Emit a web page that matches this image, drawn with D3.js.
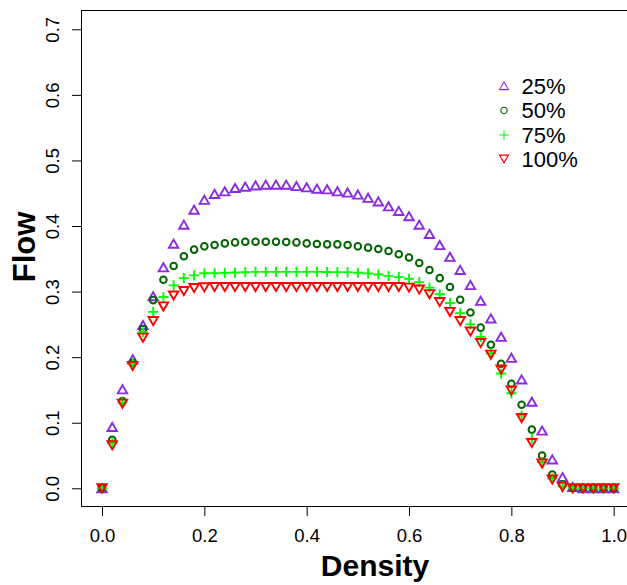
<!DOCTYPE html>
<html>
<head>
<meta charset="utf-8">
<script src="https://cdn.jsdelivr.net/npm/d3@7/dist/d3.min.js"></script>
<style>
  html, body { margin: 0; padding: 0; background: #fff; }
  svg { display: block; font-family: "Liberation Sans", Arial, Helvetica, sans-serif; }
</style>
</head>
<body>
<svg id="chart" width="627" height="585"></svg>
<script>
const density = [0,0.02,0.04,0.06,0.08,0.10,0.12,0.14,0.16,0.18,
  0.20,0.22,0.24,0.26,0.28,0.30,0.32,0.34,0.36,0.38,
  0.40,0.42,0.44,0.46,0.48,0.50,0.52,0.54,0.56,0.58,
  0.60,0.62,0.64,0.66,0.68,0.70,0.72,0.74,0.76,0.78,
  0.80,0.82,0.84,0.86,0.88,0.90,0.92,0.94,0.96,0.98,1.00];

const flow25 = [0,0.0935,0.151,0.197,0.249,0.293,0.337,0.373,0.402,0.425,
  0.440,0.449,0.453,0.458,0.460,0.462,0.463,0.463,0.463,0.461,
  0.459,0.457,0.456,0.453,0.451,0.448,0.443,0.4375,0.430,0.423,
  0.415,0.402,0.388,0.371,0.353,0.333,0.310,0.286,0.259,0.231,
  0.199,0.166,0.132,0.088,0.044,0.017,0.002,0,0,0,0];

const flow50 = [0,0.074,0.133,0.1915,0.243,0.287,0.318,0.339,0.354,0.364,
  0.369,0.371,0.3735,0.375,0.376,0.376,0.376,0.376,0.3755,0.375,
  0.3735,0.3725,0.372,0.372,0.371,0.369,0.367,0.365,0.362,0.357,
  0.352,0.3435,0.333,0.3205,0.307,0.2875,0.268,0.245,0.219,0.190,
  0.1595,0.1275,0.0895,0.050,0.021,0.006,0,0,0,0,0];

const flow75 = [0,0.069,0.1306,0.190,0.238,0.269,0.2917,0.3095,0.3206,0.3247,
  0.328,0.328,0.3285,0.329,0.3296,0.330,0.330,0.330,0.330,0.330,
  0.330,0.330,0.3298,0.3297,0.3297,0.3287,0.3277,0.326,0.324,0.322,
  0.3196,0.3145,0.306,0.296,0.2825,0.267,0.250,0.231,0.206,0.175,
  0.145,0.111,0.0757,0.040,0.0148,0.003,0,0,0,0,0];

const flow100 = [0,0.0655,0.129,0.1865,0.2297,0.255,0.2774,0.294,0.3008,0.3054,
  0.3065,0.307,0.307,0.307,0.307,0.307,0.307,0.307,0.307,0.307,
  0.307,0.307,0.307,0.307,0.307,0.307,0.307,0.307,0.307,0.307,
  0.306,0.303,0.296,0.284,0.269,0.255,0.239,0.2215,0.2038,0.181,
  0.149,0.107,0.069,0.0376,0.0133,0.002,0,0,0,0,0];

const seriesNames = ["25%", "50%", "75%", "100%"];
const xTicks = [0, 0.2, 0.4, 0.6, 0.8, 1.0];
const yTicks = [0, 0.1, 0.2, 0.3, 0.4, 0.5, 0.6, 0.7];
const xTitle = "Density";
const yTitle = "Flow";

(function () {
const series = [
  { name: seriesNames[0], values: flow25,  shape: "up",     color: "#8A2BE2" },
  { name: seriesNames[1], values: flow50,  shape: "circle", color: "#006400" },
  { name: seriesNames[2], values: flow75,  shape: "plus",   color: "#00FF00" },
  { name: seriesNames[3], values: flow100, shape: "down",   color: "#FF0000" }
];

const svg = d3.select("#chart");
const x = d3.scaleLinear().domain([0, 1]).range([102, 613.7]);
const y = d3.scaleLinear().domain([0, 0.7]).range([488.3, 29.3]);

const boxL = 81.5, boxR = x(1.04), boxT = 10.5, boxB = 506.5;

// plot box
svg.append("rect")
  .attr("x", boxL).attr("y", boxT)
  .attr("width", boxR - boxL).attr("height", boxB - boxT)
  .attr("fill", "none").attr("stroke", "#000").attr("stroke-width", 1);

// x axis
const gx = svg.append("g").attr("transform", `translate(0,${boxB})`)
  .call(d3.axisBottom(x).tickValues(xTicks).tickSize(9.5).tickFormat(d3.format(".1f")));
gx.select(".domain").remove();
gx.selectAll(".tick line").attr("stroke", "#000");
gx.selectAll(".tick text")
  .attr("y", 35).attr("dy", 0)
  .attr("font-size", 18.5).attr("fill", "#000")
  .attr("font-family", "Liberation Sans, Arial, sans-serif");

// y axis
const gy = svg.append("g").attr("transform", `translate(${boxL},0)`)
  .call(d3.axisLeft(y).tickValues(yTicks).tickSize(9.5).tickFormat(d3.format(".1f")));
gy.select(".domain").remove();
gy.selectAll(".tick line").attr("stroke", "#000");
gy.selectAll(".tick text")
  .attr("transform", "rotate(-90)")
  .attr("x", 0).attr("y", -22.5).attr("dy", 0)
  .attr("text-anchor", "middle")
  .attr("font-size", 18.5).attr("fill", "#000")
  .attr("font-family", "Liberation Sans, Arial, sans-serif");

// titles
svg.append("text").attr("x", 375).attr("y", 576)
  .attr("text-anchor", "middle").attr("font-size", 30).attr("font-weight", "bold")
  .attr("fill", "#000").text(xTitle);
svg.append("text").attr("transform", "translate(35,247) rotate(-90)")
  .attr("text-anchor", "middle").attr("font-size", 31).attr("font-weight", "bold")
  .attr("fill", "#000").text(yTitle);

// symbol drawer
function drawSymbol(g, shape, color, s, lw) {
  if (shape === "up") {
    g.append("path").attr("d", `M0,${-0.866*s} L${s},${0.866*s} L${-s},${0.866*s} Z`)
      .attr("fill", "none").attr("stroke", color).attr("stroke-width", lw);
  } else if (shape === "down") {
    g.append("path").attr("d", `M0,${0.866*s} L${s},${-0.866*s} L${-s},${-0.866*s} Z`)
      .attr("fill", "none").attr("stroke", color).attr("stroke-width", lw);
  } else if (shape === "circle") {
    g.append("circle").attr("r", s * 0.7)
      .attr("fill", "none").attr("stroke", color).attr("stroke-width", lw * 1.05);
  } else if (shape === "plus") {
    g.append("path").attr("d", `M${-s*1.08},0 H${s*1.08} M0,${-s*1.08} V${s*1.08}`)
      .attr("fill", "none").attr("stroke", color).attr("stroke-width", lw);
  }
}

// points
const plot = svg.append("g");
series.forEach(sr => {
  const gs = plot.append("g");
  density.forEach((d, i) => {
    const g = gs.append("g").attr("transform", `translate(${x(d)},${y(sr.values[i])})`);
    drawSymbol(g, sr.shape, sr.color, 4.7, 1.9);
  });
});

// legend
const legendY = [85.7, 110.4, 135, 159];
const legend = svg.append("g");
series.forEach((sr, i) => {
  const g = legend.append("g").attr("transform", `translate(504,${legendY[i]})`);
  drawSymbol(g, sr.shape, sr.color, 4.5, 1.1);
  legend.append("text").attr("x", 521.5).attr("y", legendY[i] + 8)
    .attr("font-size", 22).attr("fill", "#000").text(sr.name);
});
})();
</script>
</body>
</html>
